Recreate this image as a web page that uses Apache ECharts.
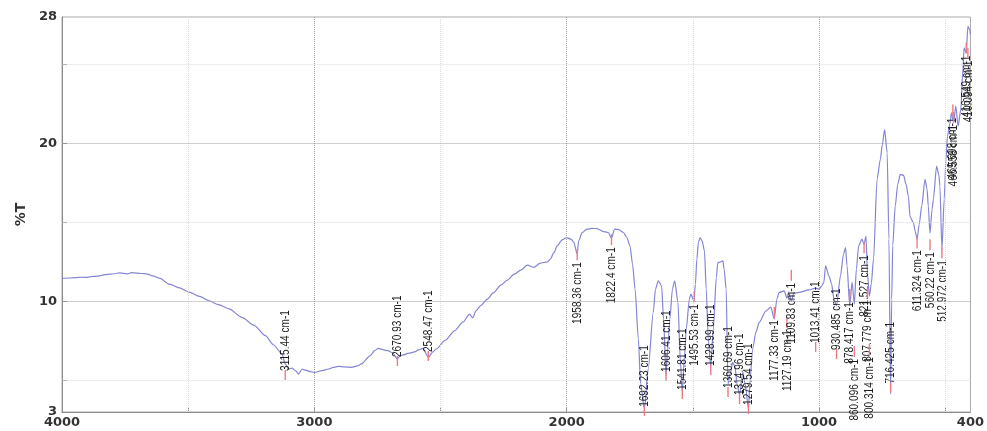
<!DOCTYPE html>
<html>
<head>
<meta charset="utf-8">
<script src="https://cdn.jsdelivr.net/npm/echarts@6/dist/echarts.min.js"></script>
<style>
html, body { margin: 0; padding: 0; background: #fff; }
#chart { width: 987px; height: 431px; }
</style>
</head>
<body>
<div id="chart"></div>
<script>
// FTIR spectrum: wavenumber (cm-1) against transmittance (%T)
const wavenumber = [
  4000, 3970, 3949, 3920, 3900, 3878, 3860, 3845, 3831, 3810, 3790, 3771, 3755, 3740, 3725, 3712,
  3695, 3673, 3661, 3640, 3614, 3574, 3535, 3496, 3455, 3417, 3380, 3338, 3287, 3240, 3194, 3161,
  3128, 3115.44, 3102, 3088, 3075, 3062, 3049, 3035, 3015, 2999, 2970, 2944, 2925, 2905, 2880, 2852,
  2830, 2813, 2780, 2760, 2747, 2725, 2708, 2690, 2670.93, 2660, 2649, 2625, 2603, 2585, 2570, 2548.47,
  2530, 2517, 2480, 2445, 2410, 2385, 2372, 2360, 2340, 2314, 2290, 2261, 2235, 2208, 2180, 2156,
  2130, 2105, 2077, 2065, 2050, 2038, 2018, 2001, 1983, 1972, 1958.36, 1953, 1939, 1920, 1900, 1880,
  1854, 1841, 1835, 1822.4, 1812, 1808, 1794, 1775, 1762, 1749, 1739, 1729, 1716, 1707, 1692.23, 1677,
  1657, 1648, 1637, 1624, 1616, 1606.41, 1600, 1591, 1581, 1572, 1559, 1550, 1541.81, 1534, 1526, 1514,
  1508, 1495.53, 1490, 1484, 1478, 1471, 1463, 1454, 1447, 1439, 1428.99, 1419, 1407, 1401, 1392, 1381,
  1376, 1368, 1360.69, 1352, 1342, 1333, 1325, 1314.96, 1302, 1293, 1279.54, 1273, 1263, 1250, 1237, 1211,
  1191, 1177.33, 1167, 1158, 1138, 1127.19, 1120, 1109.83, 1100, 1079, 1040, 1013.41, 1000, 990, 981, 974,
  961, 950, 941, 930.485, 915, 903, 895, 889, 878.417, 869, 860.096, 852, 843, 830, 821.527, 814,
  807.779, 800.314, 793, 784, 770, 757, 749, 740, 730, 723, 716.425, 712, 708, 698, 688, 678,
  665, 655, 646, 639, 626, 619, 611.324, 603, 593, 580, 572, 567, 560.22, 552, 547, 534,
  525, 521, 512.972, 504, 497, 491, 482, 475, 469.698, 466.558, 458, 449, 438, 430, 425, 416.549,
  410.094, 403, 400
];
const transmittance = [
  11.45, 11.48, 11.50, 11.53, 11.52, 11.58, 11.60, 11.64, 11.69, 11.72, 11.75, 11.81, 11.78, 11.74, 11.82, 11.80,
  11.77, 11.76, 11.73, 11.62, 11.47, 11.09, 10.85, 10.59, 10.32, 10.04, 9.79, 9.53, 8.99, 8.50, 7.83, 7.24,
  6.67, 6.04, 5.72, 5.78, 5.62, 5.40, 5.72, 5.65, 5.55, 5.51, 5.62, 5.72, 5.82, 5.89, 5.85, 5.83,
  5.92, 6.04, 6.55, 6.90, 7.03, 6.93, 6.88, 6.75, 6.36, 6.55, 6.61, 6.72, 6.80, 6.95, 7.03, 6.46,
  6.80, 6.99, 7.55, 8.14, 8.70, 9.20, 8.95, 9.40, 9.75, 10.15, 10.55, 11.03, 11.35, 11.72, 12.00, 12.29,
  12.15, 12.42, 12.50, 12.67, 13.10, 13.51, 13.90, 14.04, 13.94, 13.75, 12.99, 13.81, 14.35, 14.57, 14.62, 14.61,
  14.42, 14.38, 14.35, 14.00, 14.50, 14.57, 14.54, 14.36, 14.06, 13.50, 12.36, 10.78, 7.62, 4.78, 3.20, 5.72,
  9.30, 10.78, 11.30, 10.99, 8.88, 5.28, 6.99, 8.88, 10.78, 11.30, 9.94, 6.36, 4.27, 6.36, 8.25, 10.15,
  10.46, 10.04, 11.09, 12.67, 13.75, 14.04, 13.81, 13.20, 10.78, 7.62, 5.85, 8.25, 11.52, 12.46, 12.48, 12.56,
  12.04, 10.78, 4.78, 5.41, 6.15, 5.85, 4.78, 4.08, 5.52, 4.78, 3.20, 5.09, 6.99, 8.06, 8.67, 9.39,
  9.64, 8.88, 10.15, 10.57, 10.67, 10.20, 10.60, 10.00, 10.52, 10.57, 10.73, 10.84, 10.78, 10.97, 11.20, 12.25,
  11.62, 11.10, 10.15, 9.72, 11.62, 12.99, 13.41, 12.25, 9.72, 11.20, 9.83, 12.04, 13.51, 13.94, 13.62, 14.14,
  11.72, 10.33, 11.10, 12.67, 17.73, 18.99, 19.94, 20.88, 19.41, 13.94, 4.14, 10.15, 13.55, 16.04, 17.41, 18.04,
  17.98, 17.41, 16.67, 15.33, 14.99, 14.44, 13.94, 14.88, 16.04, 17.73, 17.10, 16.04, 14.31, 15.83, 16.46, 18.57,
  17.98, 17.30, 13.30, 16.46, 18.99, 20.46, 21.20, 21.94, 21.50, 21.31, 22.36, 21.09, 22.15, 24.67, 26.05, 25.73,
  27.41, 27.20, 26.90
];

// Picked peaks and the %T level where each peak marker starts
const peakWavenumbers = [
  3115.44, 2670.93, 2548.47, 1958.36, 1822.4, 1692.23, 1606.41, 1541.81, 1495.53, 1428.99,
  1360.69, 1314.96, 1279.54, 1177.33, 1127.19, 1109.83, 1013.41, 930.485, 878.417, 860.096,
  821.527, 807.779, 800.314, 716.425, 611.324, 560.22, 512.972, 469.698, 466.558, 416.549, 410.094
];
const peakLevels = [
  5.66, 6.54, 6.86, 13.3, 14.25, 3.39, 5.60, 4.46, 10.65, 5.98,
  4.59, 4.14, 3.51, 9.64, 9.0, 12.0, 7.43, 6.99, 10.78, 7.18,
  13.75, 10.9, 7.3, 4.86, 14.06, 13.94, 13.43, 22.46, 22.0, 26.38, 26.06
];

// Axis ticks and labels
const xTickLabels = [4000, 3000, 2000, 1000, 400];
const xMajorGrid = [3000, 2000, 1000];
const xMinorGrid = [3500, 2500, 1500, 500];
const yTickLabels = [3, 10, 20, 28];
const yMajorGrid = [10, 20];
const yMinorGrid = [5, 15, 25];

// Peaks whose label text hangs below the marker (the rest sit above it)
const labelBelow = new Set([1958.36, 1822.4, 1495.53, 1177.33, 1127.19, 1109.83, 878.417, 860.096,
  821.527, 807.779, 800.314, 611.324, 560.22, 512.972, 469.698, 466.558, 416.549, 410.094]);

const spectrum = wavenumber.map((w, i) => [w, transmittance[i]]);
const peaks = peakWavenumbers.map((w, i) => [w, peakLevels[i]]);
const peakText = w => String(Number(w.toPrecision(6))) + ' cm-1';

const gridLine = (values, axis, color) => ({
  silent: true,
  symbol: 'none',
  label: { show: false },
  lineStyle: { type: 'dotted', color: color, width: 1 },
  data: values.map(v => ({ [axis]: v }))
});

const axisFont = { color: '#333', fontFamily: 'DejaVu Sans, Liberation Sans, Arial, sans-serif', fontWeight: 'bold', fontSize: 13 };

const chart = echarts.init(document.getElementById('chart'), null, { renderer: 'canvas' });
chart.setOption({
  animation: false,
  backgroundColor: '#fff',
  grid: { left: 62, right: 12, top: 17, bottom: 19, show: true, borderColor: '#a8a8a8', borderWidth: 1 },
  xAxis: {
    type: 'value', min: 400, max: 4000, inverse: true,
    axisLine: { show: true, lineStyle: { color: '#8c8c8c' } },
    axisTick: { show: true, inside: true, length: 5, customValues: [3500, 3000, 2500, 2000, 1500, 1000, 500], lineStyle: { color: '#8c8c8c' } },
    axisLabel: Object.assign({ customValues: xTickLabels, margin: 4, formatter: v => String(v), showMinLabel: true, showMaxLabel: true }, axisFont),
    splitLine: { show: false }
  },
  yAxis: {
    type: 'value', min: 3, max: 28,
    name: '%T', nameLocation: 'middle', nameGap: 31, nameRotate: 90,
    nameTextStyle: { color: '#333', fontFamily: 'DejaVu Sans, Liberation Sans, Arial, sans-serif', fontWeight: 'bold', fontSize: 14 },
    axisLine: { show: true, lineStyle: { color: '#8c8c8c' } },
    axisTick: { show: true, inside: true, length: 5, customValues: [5, 10, 15, 20, 25], lineStyle: { color: '#8c8c8c' } },
    axisLabel: Object.assign({ customValues: yTickLabels, margin: 5, formatter: v => String(v), showMinLabel: true, showMaxLabel: true }, axisFont),
    splitLine: { show: false }
  },
  series: [
    {
      type: 'line', name: 'grid-minor', data: [], silent: true,
      markLine: gridLine(yMinorGrid, 'yAxis', '#dadada')
    },
    {
      type: 'line', name: 'grid-minor-x', data: [], silent: true,
      markLine: gridLine(xMinorGrid, 'xAxis', '#dadada')
    },
    {
      type: 'line', name: 'grid-major', data: [], silent: true,
      markLine: gridLine(yMajorGrid, 'yAxis', '#a0a0a0')
    },
    {
      type: 'line', name: 'grid-major-x', data: [], silent: true,
      markLine: gridLine(xMajorGrid, 'xAxis', '#a0a0a0')
    },
    {
      type: 'line', name: 'spectrum', data: spectrum,
      showSymbol: false, smooth: 0.25, smoothMonotone: 'x',
      lineStyle: { color: '#8585d6', width: 1.2 },
      z: 3
    },
    {
      type: 'custom', name: 'peaks', data: peaks, z: 4, clip: false,
      renderItem: function (params, api) {
        const w = api.value(0);
        const p = api.coord([w, api.value(1)]);
        const below = labelBelow.has(w);
        const markLen = below ? 11 : 10;
        return {
          type: 'group',
          children: [
            {
              type: 'line',
              shape: { x1: p[0], y1: p[1], x2: p[0], y2: p[1] + markLen },
              style: { stroke: '#ee7a86', lineWidth: 1.4 }
            },
            {
              type: 'text',
              x: p[0], y: below ? p[1] + markLen + 2 : p[1] + 1,
              rotation: Math.PI / 2,
              scaleX: 0.84, scaleY: 1.1,
              style: {
                text: peakText(w),
                align: below ? 'right' : 'left',
                verticalAlign: 'middle',
                fontFamily: 'Liberation Sans, Arial, sans-serif',
                fontSize: 12,
                fill: '#1e1e1e'
              }
            }
          ]
        };
      }
    }
  ]
});
</script>
</body>
</html>
